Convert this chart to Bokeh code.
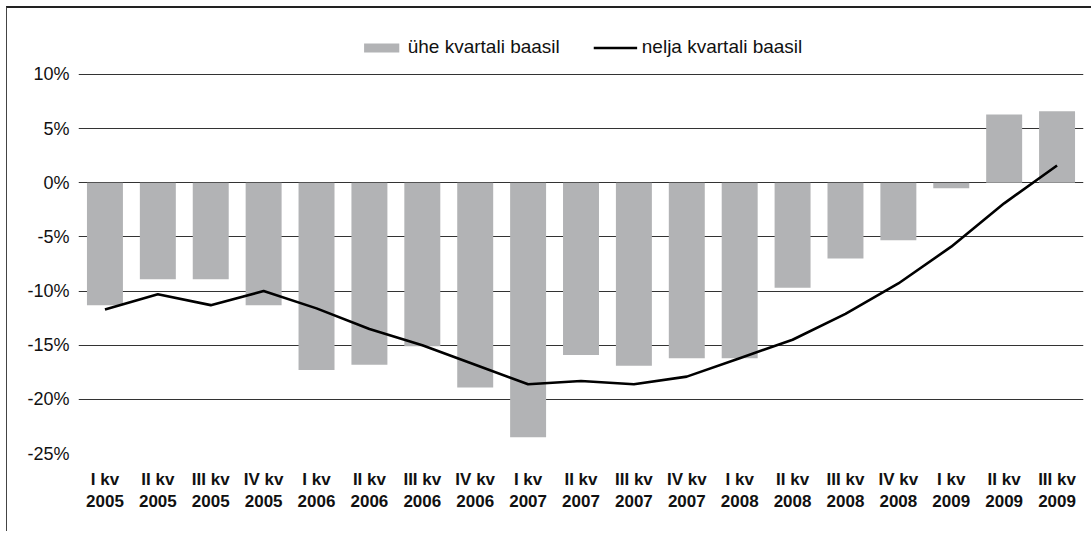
from bokeh.plotting import figure
from bokeh.models import ColumnDataSource, FixedTicker, Legend, LegendItem, Range1d
from bokeh.embed import file_html
from bokeh.resources import INLINE

categories = ["I kv\n2005", "II kv\n2005", "III kv\n2005", "IV kv\n2005",
              "I kv\n2006", "II kv\n2006", "III kv\n2006", "IV kv\n2006",
              "I kv\n2007", "II kv\n2007", "III kv\n2007", "IV kv\n2007",
              "I kv\n2008", "II kv\n2008", "III kv\n2008", "IV kv\n2008",
              "I kv\n2009", "II kv\n2009", "III kv\n2009"]
one_quarter = [-11.3, -8.9, -8.9, -11.3, -17.3, -16.8, -15.1, -18.9, -23.5,
               -15.9, -16.9, -16.2, -16.2, -9.7, -7.0, -5.3, -0.5, 6.3, 6.6]
four_quarters = [-11.7, -10.3, -11.3, -10.0, -11.6, -13.5, -15.0, -16.8, -18.6,
                 -18.3, -18.6, -17.9, -16.2, -14.5, -12.1, -9.3, -5.9, -1.9, 1.6]
y_ticks = [-25, -20, -15, -10, -5, 0, 5, 10]
y_labels = {t: f"{t}%" for t in y_ticks}

src = ColumnDataSource(dict(cat=categories, bar=one_quarter, line=four_quarters))

p = figure(width=1085, height=525, x_range=categories,
           y_range=Range1d(-25, 14.06), output_backend="svg",
           toolbar_location=None, min_border_left=71, min_border_right=9,
           min_border_top=22, min_border_bottom=80)
p.styles = {"margin-left": "6px", "margin-top": "6px",
            "border-left": "1px solid #444", "border-top": "2px solid #222"}
p.outline_line_color = None
p.background_fill_color = "white"

bars = p.vbar(x="cat", top="bar", bottom=0, width=0.68, source=src,
              fill_color="#b2b3b5", line_color=None)
line = p.line(x="cat", y="line", source=src, line_color="black", line_width=2.6)

p.xgrid.grid_line_color = None
p.ygrid.grid_line_color = "#333333"
p.ygrid.grid_line_width = 1
p.yaxis.ticker = FixedTicker(ticks=y_ticks)
p.ygrid.ticker = FixedTicker(ticks=y_ticks)
p.yaxis.major_label_overrides = y_labels
p.yaxis.axis_line_color = None
p.yaxis.major_tick_line_color = None
p.yaxis.major_tick_out = 0
p.yaxis.minor_tick_line_color = None
p.yaxis.minor_tick_out = 0
p.yaxis.major_label_text_font = "Liberation Sans"
p.yaxis.major_label_text_font_size = "18px"
p.yaxis.major_label_text_color = "#111111"
p.yaxis.major_label_standoff = 9

p.xaxis.axis_line_color = None
p.xaxis.major_tick_line_color = None
p.xaxis.major_label_text_font = "Liberation Sans"
p.xaxis.major_label_text_font_size = "17px"
p.xaxis.major_label_text_font_style = "bold"
p.xaxis.major_label_text_color = "#111111"
p.xaxis.major_label_standoff = 10
p.x_range.range_padding = 0
p.x_range.factor_padding = 0

legend = Legend(items=[LegendItem(label="ühe kvartali baasil", renderers=[bars]),
                       LegendItem(label="nelja kvartali baasil", renderers=[line])],
                orientation="horizontal", location="top_center",
                glyph_width=44, glyph_height=11, label_standoff=5, spacing=33,
                label_text_font="Liberation Sans", label_text_font_size="19px",
                label_text_color="#111111", border_line_color=None,
                background_fill_alpha=0, margin=6, padding=4)
p.add_layout(legend)

open("out.html", "w").write(file_html(p, INLINE))
